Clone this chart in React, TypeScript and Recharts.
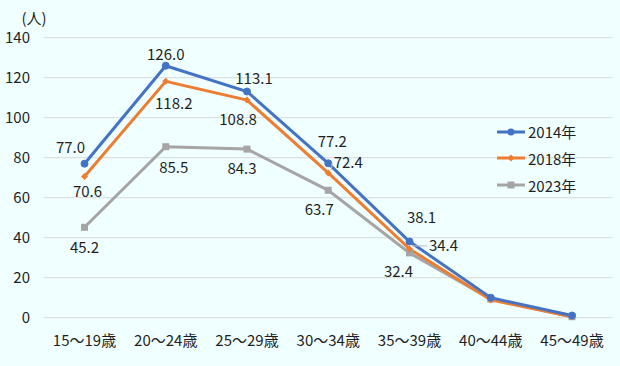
import React from "react";
import { LineChart, Line, XAxis, YAxis, CartesianGrid, Legend, LabelList } from "recharts";

const categories = ["15〜19歳", "20〜24歳", "25〜29歳", "30〜34歳", "35〜39歳", "40〜44歳", "45〜49歳"];
const s2014 = [77.0, 126.0, 113.1, 77.2, 38.1, 10.0, 1.1];
const s2018 = [70.6, 118.2, 108.8, 72.4, 34.4, 8.9, 0.5];
const s2023 = [45.2, 85.5, 84.3, 63.7, 32.4, 9.3, 0.5];
const yTicks = [0, 20, 40, 60, 80, 100, 120, 140];
const labeledCount = 5;

const data = categories.map((c, i) => ({ cat: c, y2014: s2014[i], y2018: s2018[i], y2023: s2023[i] }));

const FONT = '"Noto Sans CJK JP", "Noto Sans", sans-serif';
const TXT = "#1f1f1f";
const BLUE = "#4472C4";
const ORANGE = "#ED7D31";
const GRAY = "#A5A5A5";

// label placement offsets [dx, dy, leader]
const off2014: [number, number, boolean][] = [[-14, -17, false], [0, -12, false], [7, -14, false], [4, -23, false], [12, -25, false]];
const off2018: [number, number, boolean][] = [[3, 14, false], [8, 21, false], [-9, 18, false], [20, -11, true], [34, -4, true]];
const off2023: [number, number, boolean][] = [[0, 19, false], [8, 20, false], [-5, 18, false], [-9, 18, false], [-11, 18, false]];

const makeLabel = (offs: [number, number, boolean][]) => (props: any) => {
  const { x, y, value, index } = props;
  if (index >= labeledCount || x == null || y == null) return null;
  const [dx, dy, leader] = offs[index];
  return (
    <g>
      {leader ? (
        <line x1={x + 3} y1={y - 3} x2={x + dx - 16} y2={y + dy + 1} stroke="#BFBFBF" strokeWidth={1} />
      ) : null}
      <text x={x + dx} y={y + dy} textAnchor="middle" dominantBaseline="central" fontSize={15} fontFamily={FONT} fill={TXT}>
        {Number(value).toFixed(1)}
      </text>
    </g>
  );
};

const Circle = (color: string) => (p: any) => (
  <circle key={`c${p.index}`} cx={p.cx} cy={p.cy} r={3.5} fill={color} stroke={color} />
);
const Diamond = (color: string) => (p: any) => (
  <path key={`d${p.index}`} d={`M${p.cx},${p.cy - 3.5}L${p.cx + 3.5},${p.cy}L${p.cx},${p.cy + 3.5}L${p.cx - 3.5},${p.cy}Z`} fill={color} />
);
const Square = (color: string) => (p: any) => (
  <rect key={`s${p.index}`} x={p.cx - 3.5} y={p.cy - 3.5} width={7} height={7} fill={color} />
);

const legendItems = [
  { name: "2014年", color: BLUE, shape: "circle" },
  { name: "2018年", color: ORANGE, shape: "diamond" },
  { name: "2023年", color: GRAY, shape: "square" },
];

const LegendContent = () => (
  <div style={{ fontFamily: FONT, fontSize: 15, color: TXT }}>
    {legendItems.map((it) => (
      <div key={it.name} style={{ display: "flex", alignItems: "center", height: 26.7 }}>
        <svg width={30} height={10} style={{ marginRight: 1 }}>
          <line x1={0} y1={5} x2={28} y2={5} stroke={it.color} strokeWidth={3} />
          {it.shape === "circle" && <circle cx={14} cy={5} r={3.5} fill={it.color} />}
          {it.shape === "diamond" && <path d="M14,1.5L17.5,5L14,8.5L10.5,5Z" fill={it.color} />}
          {it.shape === "square" && <rect x={10.5} y={1.5} width={7} height={7} fill={it.color} />}
        </svg>
        <span style={{ lineHeight: "15px" }}>{it.name}</span>
      </div>
    ))}
  </div>
);

export default function App() {
  return (
    <div style={{ position: "absolute", left: 0, top: 0, width: 620, height: 366, background: "#F0FFFF" }}>
      <LineChart width={620} height={366} data={data} margin={{ top: 37.7, right: 7.5, bottom: 18.3, left: 0 }}>
        <CartesianGrid horizontal vertical={false} stroke="#D9D9D9" strokeWidth={1} />
        <XAxis
          dataKey="cat"
          height={30}
          axisLine={false}
          tickLine={false}
          tickMargin={12}
          interval={0}
          padding={{ left: 40.5, right: 40.5 }}
          tick={{ fontSize: 15, fontFamily: FONT, fill: TXT }}
        />
        <YAxis
          width={44}
          domain={[0, 140]}
          ticks={yTicks}
          axisLine={false}
          tickLine={false}
          tickMargin={8}
          tick={{ fontSize: 15, fontFamily: FONT, fill: TXT }}
          label={{
            content: (props: any) => {
              const vb = props.viewBox || { x: 0, y: 37.7 };
              return (
                <text x={vb.x + 34} y={vb.y - 20} textAnchor="middle" dominantBaseline="central" fontSize={15} fontFamily={FONT} fill={TXT}>
                  (人)
                </text>
              );
            },
          }}
        />
        <Legend
          layout="horizontal"
          align="center"
          verticalAlign="middle"
          content={<LegendContent />}
          wrapperStyle={{ position: "absolute", left: 497, top: 118.3, width: 100 }}
        />
        <Line dataKey="y2023" name="2023年" stroke={GRAY} strokeWidth={3} dot={Square(GRAY)} isAnimationActive={false}>
          <LabelList dataKey="y2023" content={makeLabel(off2023)} />
        </Line>
        <Line dataKey="y2018" name="2018年" stroke={ORANGE} strokeWidth={3} dot={Diamond(ORANGE)} isAnimationActive={false}>
          <LabelList dataKey="y2018" content={makeLabel(off2018)} />
        </Line>
        <Line dataKey="y2014" name="2014年" stroke={BLUE} strokeWidth={3} dot={Circle(BLUE)} isAnimationActive={false}>
          <LabelList dataKey="y2014" content={makeLabel(off2014)} />
        </Line>
      </LineChart>
    </div>
  );
}
